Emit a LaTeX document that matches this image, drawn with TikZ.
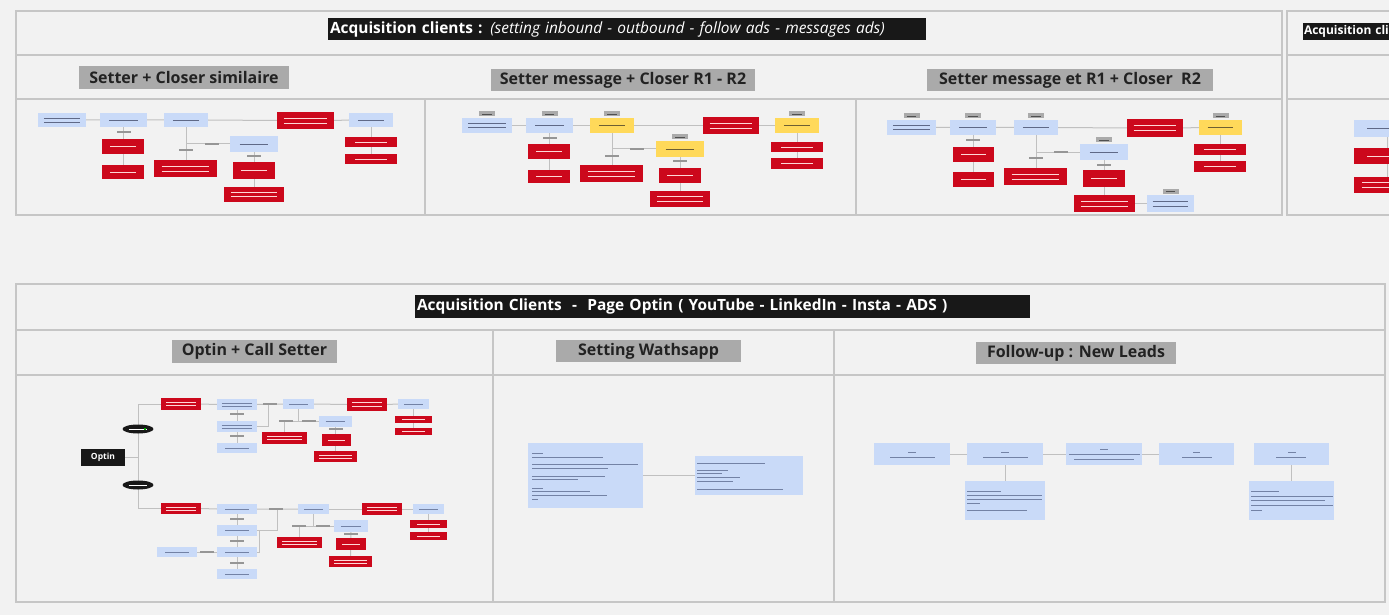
\documentclass[tikz,border=0pt]{standalone}
\usepackage{fontspec}
\setmainfont{Open Sans}
\usetikzlibrary{calc,shapes.geometric}
\pgfdeclarelayer{back}
\pgfsetlayers{back,main}
\definecolor{bg}{RGB}{242,242,242}
\definecolor{frame}{RGB}{198,198,198}
\definecolor{conn}{RGB}{192,192,192}
\definecolor{bluebox}{RGB}{201,218,248}
\definecolor{redbox}{RGB}{204,8,28}
\definecolor{yellowbox}{RGB}{255,217,90}
\definecolor{graytag}{RGB}{170,170,170}
\definecolor{blk}{RGB}{24,24,24}
\definecolor{hdrtxt}{RGB}{34,34,34}
\definecolor{bltxt}{RGB}{95,105,135}
\definecolor{rdtxt}{RGB}{255,215,215}
\definecolor{yltxt}{RGB}{110,95,50}
\definecolor{tagtxt}{RGB}{80,80,80}
\definecolor{lbl}{RGB}{150,150,150}
\definecolor{ftxt}{RGB}{115,130,165}
\newcommand\bx[6]{\node[#1, minimum width={((#5)-(#3))*1pt}, minimum height={((#6)-(#4))*1pt}] (#2) at ({((#3)+(#5))/2},{((#4)+(#6))/2}) {};}
\newcommand\tagab[2]{\node[tg, anchor=south] (#1) at ($(#2.north)+(0,-1.5)$) {};}
\newcommand\lbat[2]{\node[lb] at (#1,#2) {};}
\newcommand\tl[3]{\draw[txl] (#1,#3) -- (#2,#3);}
\tikzset{
 cn/.style={draw=conn, line width=1pt},
 fr/.style={draw=frame, line width=1.3pt},
 bxs/.style={inner sep=0pt, outer sep=0pt},
 bl/.style={bxs, fill=bluebox},
 rd/.style={bxs, fill=redbox},
 yl/.style={bxs, fill=yellowbox},
 t1/.style={path picture={\draw[line width=0.55pt,#1] let \p1=(path picture bounding box.south west),\p2=(path picture bounding box.north east) in
   ({\x1+0.2*(\x2-\x1)},{0.5*(\y1+\y2)}) -- ({\x2-0.2*(\x2-\x1)},{0.5*(\y1+\y2)});}},
 t2/.style={path picture={\draw[line width=0.55pt,#1] let \p1=(path picture bounding box.south west),\p2=(path picture bounding box.north east) in
   ({\x1+0.12*(\x2-\x1)},{\y1+0.64*(\y2-\y1)}) -- ({\x2-0.12*(\x2-\x1)},{\y1+0.64*(\y2-\y1)})
   ({\x1+0.12*(\x2-\x1)},{\y1+0.36*(\y2-\y1)}) -- ({\x2-0.12*(\x2-\x1)},{\y1+0.36*(\y2-\y1)});}},
 tg/.style={bxs, fill=graytag, minimum width=16pt, minimum height=5pt, t1=tagtxt},
 lb/.style={bxs, fill=lbl, minimum width=14pt, minimum height=1.6pt},
 ell/.style={ellipse, bxs, fill=blk, minimum width=31pt, minimum height=9pt},
 hdr/.style={bxs, fill=graytag, text=hdrtxt, font=\bfseries\fontsize{16}{19}\selectfont},
 ttl/.style={bxs, fill=blk, text=white, font=\fontsize{15.45}{18}\selectfont},
 txl/.style={draw=ftxt, line width=0.8pt},
}
\begin{document}
\begin{tikzpicture}[x=1pt,y=-1pt]
\useasboundingbox (0,0) rectangle (1389,615);
\clip (0,0) rectangle (1389,615);
\begin{pgfonlayer}{back}
\fill[bg] (0,0) rectangle (1389,615);
% top frame
\draw[fr] (16,11) rectangle (1282,215);
\draw[fr] (16,55) -- (1282,55) (16,99) -- (1282,99) (425,99) -- (425,215) (856,99) -- (856,215);
\draw[fr] (1400,11) -- (1287,11) -- (1287,215) -- (1400,215) (1287,55) -- (1400,55) (1287,99) -- (1400,99);
% bottom frame
\draw[fr] (16,284) rectangle (1385,602);
\draw[fr] (16,330) -- (1385,330) (16,375) -- (1385,375) (493,330) -- (493,602) (834,330) -- (834,602);
\end{pgfonlayer}

% titles
\node[ttl, text width=594pt, align=left, inner xsep=2pt, minimum height=22pt] (T1) at (627,29)
  {\textbf{Acquisition clients :} \textit{(setting inbound - outbound - follow ads - messages ads)}};
\node[ttl, anchor=west, text width=140pt, align=left, inner xsep=1pt, minimum height=17pt, font=\bfseries\fontsize{12}{14}\selectfont] (T3) at (1303,31.5) {Acquisition clients};
\node[ttl, text width=611pt, align=left, inner xsep=2pt, minimum height=23pt, font=\bfseries\fontsize{15.45}{18}\selectfont] (T2) at (722.5,306.5)
  {Acquisition Clients\ \ -\ \ Page Optin ( YouTube - LinkedIn - Insta - ADS )};

% headers
\node[hdr, minimum width=210pt, minimum height=23pt] (H1) at (184,77.5) {Setter + Closer similaire};
\node[hdr, minimum width=264pt, minimum height=22pt] (H2) at (623,80) {Setter message + Closer R1 - R2};
\node[hdr, minimum width=286pt, minimum height=22pt] (H3) at (1070,80) {Setter message et R1 + Closer\ \ R2};
\node[hdr, minimum width=165pt, minimum height=23pt] (H4) at (254.5,351.5) {Optin + Call Setter};
\node[hdr, minimum width=185pt, minimum height=22pt] (H5) at (648.5,351) {Setting Wathsapp};
\node[hdr, minimum width=200pt, minimum height=22pt] (H6) at (1076,353) {Follow-up : New Leads};

% ---------- section 1
\bx{bl,t2=bltxt}{A1}{38}{113}{86}{127}
\bx{bl,t1=bltxt}{B1}{100}{113}{147}{127}
\bx{bl,t1=bltxt}{C1}{164}{113}{208}{127}
\bx{rd,t2=rdtxt}{D1}{277}{112}{334}{129}
\bx{bl,t1=bltxt}{E1}{349}{113}{393}{127}
\bx{rd,t1=rdtxt}{F1}{102}{139}{144}{154}
\bx{rd,t1=rdtxt}{G1}{102}{165}{144}{179}
\bx{bl,t1=bltxt}{H1b}{230}{136}{278}{152}
\bx{rd,t2=rdtxt}{I1}{154}{160}{217}{177}
\bx{rd,t1=rdtxt}{J1}{233}{162}{275}{179}
\bx{rd,t2=rdtxt}{K1}{224}{187}{284}{202}
\bx{rd,t1=rdtxt}{L1}{345}{137}{397}{147}
\bx{rd,t1=rdtxt}{M1}{345}{154}{397}{164}
\lbat{123.5}{132}\lbat{186}{150}\lbat{212}{144}\lbat{254}{156}

% ---------- section 2
\bx{bl,t2=bltxt}{A2}{462}{118}{512}{133}
\bx{bl,t1=bltxt}{B2}{526}{118}{573}{133}
\bx{yl,t1=yltxt}{C2}{590}{118}{634}{133}
\bx{rd,t2=rdtxt}{D2}{703}{117}{759}{134}
\bx{yl,t1=yltxt}{E2}{775}{118}{819}{133}
\bx{rd,t1=rdtxt}{F2}{528}{144}{570}{159}
\bx{rd,t1=rdtxt}{G2}{528}{170}{570}{183}
\bx{yl,t1=yltxt}{H2b}{656}{141}{704}{157}
\bx{rd,t2=rdtxt}{I2}{580}{165}{643}{182}
\bx{rd,t1=rdtxt}{J2}{659}{168}{701}{183}
\bx{rd,t2=rdtxt}{K2}{650}{191}{710}{207}
\bx{rd,t1=rdtxt}{L2}{771}{142}{823}{152}
\bx{rd,t1=rdtxt}{M2}{771}{158}{823}{169}
\tagab{tA2}{A2}\tagab{tB2}{B2}\tagab{tC2}{C2}\tagab{tE2}{E2}\tagab{tH2}{H2b}
\lbat{549.5}{138}\lbat{612}{156}\lbat{637}{149}\lbat{680}{161}

% ---------- section 3
\bx{bl,t2=bltxt}{A3}{887}{120}{936}{135}
\bx{bl,t1=bltxt}{B3}{950}{120}{996}{135}
\bx{bl,t1=bltxt}{C3}{1014}{120}{1058}{135}
\bx{rd,t2=rdtxt}{D3}{1127}{119}{1183}{137}
\bx{yl,t1=yltxt}{E3}{1199}{120}{1242}{135}
\bx{rd,t1=rdtxt}{F3}{953}{147}{994}{162}
\bx{rd,t1=rdtxt}{G3}{953}{172}{994}{187}
\bx{bl,t1=bltxt}{H3b}{1080}{144}{1128}{160}
\bx{rd,t2=rdtxt}{I3}{1004}{168}{1067}{185}
\bx{rd,t1=rdtxt}{J3}{1083}{170}{1125}{187}
\bx{rd,t2=rdtxt}{K3}{1074}{195}{1135}{212}
\bx{bl,t2=bltxt}{N3}{1147}{195}{1194}{212}
\bx{rd,t1=rdtxt}{L3}{1194}{144}{1246}{155}
\bx{rd,t1=rdtxt}{M3}{1194}{161}{1246}{172}
\tagab{tA3}{A3}\tagab{tB3}{B3}\tagab{tC3}{C3}\tagab{tE3}{E3}\tagab{tH3}{H3b}\tagab{tN3}{N3}
\lbat{973}{140}\lbat{1036}{158}\lbat{1061}{152}\lbat{1104}{165}

% ---------- section 4 (cropped)
\bx{bl,t1=bltxt}{A4}{1354}{120}{1420}{137}
\bx{rd,t1=rdtxt}{B4}{1354}{148}{1420}{164}
\bx{rd,t2=rdtxt}{C4}{1354}{177}{1420}{193}

% ---------- Optin section
\node[bxs, fill=blk, text=white, font=\bfseries\fontsize{8.5}{10}\selectfont, minimum width=44pt, minimum height=17pt] (Op) at (103,457.5) {Optin};
\node[ell, t1=white] (El1) at (138,429) {};
\node[bxs, fill=green!65!black, minimum size=2.2pt] (El1g) at (145,429) {};
\node[ell, t1=white] (El2) at (138,485) {};
\coordinate (s1) at (138,404);
\coordinate (s2) at (138,508.5);
\bx{rd,t2=rdtxt}{R1}{161}{398}{201}{410}
\bx{bl,t2=ftxt}{b1}{217}{399}{257}{410}
\bx{bl,t2=ftxt}{b2}{217}{421}{257}{432}
\bx{bl,t1=ftxt}{b3}{217}{443}{257}{453}
\bx{bl,t1=ftxt}{c1}{283}{399}{314}{409}
\bx{rd,t2=rdtxt}{d1}{347}{398}{387}{411}
\bx{bl,t1=ftxt}{e1}{398}{399}{429}{409}
\bx{rd,t1=rdtxt}{f1}{395}{416}{432}{423}
\bx{rd,t1=rdtxt}{g1}{395}{428}{432}{435}
\bx{bl,t1=ftxt}{h1}{319}{416}{352}{427}
\bx{rd,t2=rdtxt}{i1}{262}{432}{307}{444}
\bx{rd,t1=rdtxt}{j1}{322}{434}{351}{446}
\bx{rd,t2=rdtxt}{k1}{314}{451}{357}{462}
\lbat{270}{404}\lbat{237}{414}\lbat{237}{436}\lbat{286}{421}\lbat{309}{421}\lbat{335.5}{429}

\bx{rd,t2=rdtxt}{R2}{161}{503}{201}{514}
\bx{bl,t1=ftxt}{b4}{217}{504}{257}{514}
\bx{bl,t1=ftxt}{b5}{217}{525}{257}{536}
\bx{bl,t1=ftxt}{b6}{217}{547}{257}{557}
\bx{bl,t1=ftxt}{b7}{157}{547}{197}{557}
\bx{bl,t1=ftxt}{b8}{217}{569}{257}{579}
\bx{bl,t1=ftxt}{c2}{298}{504}{329}{514}
\bx{rd,t2=rdtxt}{d2}{362}{503}{402}{515}
\bx{bl,t1=ftxt}{e2}{413}{504}{444}{514}
\bx{rd,t1=rdtxt}{f2}{410}{520}{447}{528}
\bx{rd,t1=rdtxt}{g2}{410}{532}{447}{540}
\bx{bl,t1=ftxt}{h2}{334}{520}{368}{532}
\bx{rd,t2=rdtxt}{i2}{277}{537}{322}{548}
\bx{rd,t1=rdtxt}{j2}{336}{538}{366}{550}
\bx{rd,t2=rdtxt}{k2}{329}{556}{372}{567}
\lbat{276}{509}\lbat{237}{519}\lbat{237}{541}\lbat{237}{563}\lbat{207}{552}\lbat{299}{526}\lbat{323}{526}\lbat{351}{534}

% ---------- WhatsApp section
\bx{bl}{W1}{528}{443}{643}{508}
\bx{bl}{W2}{695}{456}{803}{495}
\tl{532}{543}{453}\tl{532}{603}{457}\tl{532}{638}{464}\tl{532}{608}{468}
\tl{532}{605}{476}\tl{532}{578}{479}\tl{532}{543}{488}\tl{532}{590}{491}
\tl{532}{607}{495}\tl{532}{538}{499}
\tl{697}{765}{463}\tl{697}{728}{470}\tl{697}{722}{473}\tl{697}{740}{477}
\tl{697}{733}{481}\tl{697}{783}{489}

% ---------- Follow-up section
\bx{bl}{Fa}{874}{443}{950}{465}
\bx{bl}{Fb}{967}{443}{1043}{465}
\bx{bl}{Fc}{1066}{443}{1142}{465}
\bx{bl}{Fd}{1159}{443}{1234}{465}
\bx{bl}{Fe}{1254}{443}{1329}{465}
\bx{bl}{Ga}{965}{481}{1045}{520}
\bx{bl}{Gb}{1249}{481}{1334}{520}
\tl{908}{916}{452}\tl{890}{935}{457}
\tl{1001}{1009}{452}\tl{983}{1028}{457}
\tl{1100}{1108}{449}\tl{1069}{1140}{454}\tl{1074}{1134}{459}
\tl{1193}{1200}{452}\tl{1182}{1212}{457}
\tl{1288}{1296}{452}\tl{1276}{1306}{457}
\tl{967}{1001}{491}\tl{967}{1042}{495}\tl{967}{1042}{499}\tl{967}{980}{503}\tl{967}{1027}{510}
\tl{1251}{1279}{491}\tl{1251}{1333}{496}\tl{1251}{1325}{500}\tl{1251}{1333}{505}\tl{1251}{1262}{510}

% ---------- connectors
\begin{pgfonlayer}{back}
\draw[cn] (A1.east) -- (B1.west) (B1.east) -- (C1.west) (C1.east) -- (D1.west) (D1.east) -- (E1.west);
\draw[cn] (B1.south) -- (B1.south |- G1.north);
\draw[cn] (C1.south) -- (C1.south |- I1.north);
\draw[cn] (C1.south |- H1b.west) -- (H1b.west);
\draw[cn] (H1b.south) -- (H1b.south |- K1.north);
\draw[cn] (E1.south) -- (E1.south |- M1.north);

\draw[cn] (A2.east) -- (B2.west) (B2.east) -- (C2.west) (C2.east) -- (D2.west) (D2.east) -- (E2.west);
\draw[cn] (B2.south) -- (B2.south |- G2.north);
\draw[cn] (C2.south) -- (C2.south |- I2.north);
\draw[cn] (C2.south |- H2b.west) -- (H2b.west);
\draw[cn] (H2b.south) -- (H2b.south |- K2.north);
\draw[cn] (E2.south) -- (E2.south |- M2.north);

\draw[cn] (A3.east) -- (B3.west) (B3.east) -- (C3.west) (C3.east) -- (D3.west) (D3.east) -- (E3.west);
\draw[cn] (B3.south) -- (B3.south |- G3.north);
\draw[cn] (C3.south) -- (C3.south |- I3.north);
\draw[cn] (C3.south |- H3b.west) -- (H3b.west);
\draw[cn] (H3b.south) -- (H3b.south |- K3.north);
\draw[cn] (K3.east) -- (N3.west);
\draw[cn] (E3.south) -- (E3.south |- M3.north);

\draw[cn] (A4.south) -- (B4.north) (B4.south) -- (C4.north);

\draw[cn] (Op.east) -- (Op.east -| s1);
\draw[cn] (s1) -- (s2);
\draw[cn] (s1) -- (R1.west);
\draw[cn] (s2) -- (R2.west);
\draw[cn] (R1.east) -- (b1.west) (b1.east) -- (c1.west);
\draw[cn] (b1.south) -- (b3.north);
\draw[cn] (b2.east) -| ($(b1.east)!0.46!(c1.west)$);
\draw[cn] (c1.east) -- (d1.west) (d1.east) -- (e1.west);
\draw[cn] (e1.south) -- (g1.north);
\draw[cn] (c1.south) -- (c1.south |- h1.west);
\draw[cn] (i1.north) |- (h1.west);
\draw[cn] (h1.south) -- (k1.north);

\draw[cn] (R2.east) -- (b4.west) (b4.east) -- (c2.west);
\draw[cn] (b4.south) -- (b8.north);
\draw[cn] (b5.east) -| ($(b4.east)!0.49!(c2.west)$);
\draw[cn] (b6.east) -- ++(2,0) |- (b5.east);
\draw[cn] (b7.east) -- (b6.west);
\draw[cn] (c2.east) -- (d2.west) (d2.east) -- (e2.west);
\draw[cn] (e2.south) -- (g2.north);
\draw[cn] (c2.south) -- (c2.south |- h2.west);
\draw[cn] (i2.north) |- (h2.west);
\draw[cn] (h2.south) -- (k2.north);

\draw[cn] (W1.east) -- (W2.west);

\draw[cn] (Fa.east) -- (Fb.west) (Fb.east) -- (Fc.west) (Fc.east) -- (Fd.west);
\draw[cn] (Fb.south) -- (Ga.north);
\draw[cn] (Fe.south) -- (Gb.north);
\end{pgfonlayer}
\end{tikzpicture}
\end{document}
